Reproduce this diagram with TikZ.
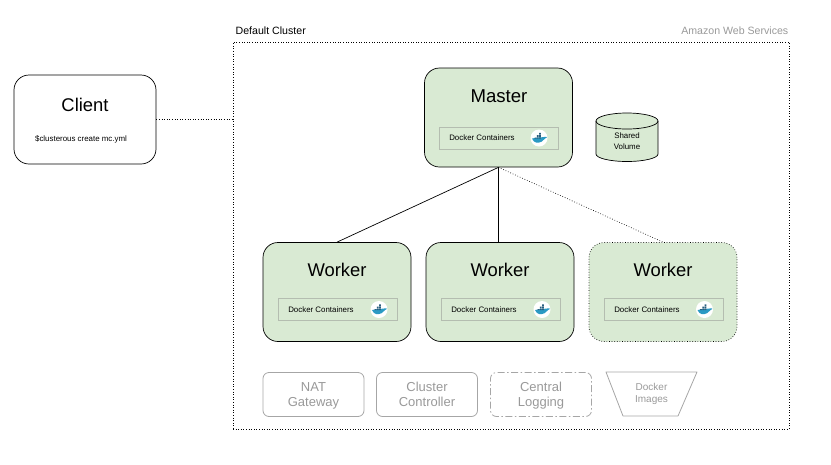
\documentclass[tikz,border=0pt]{standalone}
\usepackage{fontspec}
\setmainfont{Liberation Sans}
\usetikzlibrary{calc}
\definecolor{fillg}{HTML}{D9EAD3}
\definecolor{inner}{HTML}{B4BDB0}
\definecolor{soft}{HTML}{A6A6A6}
\definecolor{softtext}{HTML}{999999}
\definecolor{whale}{HTML}{2B9AC4}
\definecolor{whaledk}{HTML}{2A5F7F}
\tikzset{
  px/.style={font=\fontsize{#1}{#1}\selectfont},
  big/.style={draw=black,line width=0.7pt,fill=fillg,rounded corners=15pt,minimum width=148pt,minimum height=99pt,inner sep=0pt},
  tag/.style={draw=inner,line width=0.8pt,minimum width=119pt,minimum height=22pt,inner sep=0pt},
  svc/.style={draw=soft,line width=0.8pt,rounded corners=6pt,minimum width=101pt,minimum height=44pt,inner sep=0pt,align=center,text=softtext,px=13,text depth=0pt},
  dotline/.style={line width=0.65pt,dash pattern=on 0.7pt off 1.9pt},
  whaleicon/.pic={
    \fill[white] (0,0) circle (8.5pt);
    \fill[whale] (-7,0.6) .. controls (-3,-0.6) and (3,-0.6) .. (5,-1) .. controls (6.5,-1.6) and (7.5,-1.2) .. (8,-0.6) .. controls (6.5,0.2) and (5.5,0.8) .. (5,1.5) .. controls (3,5) and (-3,5.5) .. (-5,3.5) .. controls (-6,2.5) and (-6.6,1.5) .. (-7,0.6) -- cycle;
    \fill[whaledk] (-4.5,-0.5) rectangle (-2.7,0.6) (-2.2,-0.5) rectangle (-0.4,0.6) (0.1,-0.5) rectangle (1.9,0.6) (-2.2,-3) rectangle (-0.4,-1) (0.1,-3) rectangle (1.9,-1) (0.1,-5.2) rectangle (1.9,-3.4);
  }
}
\begin{document}
\begin{tikzpicture}[x=1pt,y=-1pt]
\useasboundingbox (0,0) rectangle (831,464);
\node[draw=black,dotline,minimum width=556pt,minimum height=387pt,inner sep=0pt] (cluster) at (511,235.5) {};
\node[px=10.6,anchor=west,inner sep=0pt] (dc) at (235.5,31) {Default Cluster};
\node[px=10.6,anchor=east,inner sep=0pt,text=softtext] (aws) at (788.5,31) {Amazon Web Services};

\node[big,fill=white,minimum width=142pt,minimum height=89pt] (client) at (85,119.5) {};
\node[px=18.4,inner sep=0pt] (clientt) at (85,105) {Client};
\node[px=7.9,inner sep=0pt] (cmd) at (81,139) {\$clusterous create mc.yml};

\node[big] (master) at (498.5,117.5) {};
\node[px=18.6,inner sep=0pt] (mastert) at (499,96) {Master};
\node[tag] (mtag) at (499,138) {};
\node[px=7.9,inner sep=0pt] (mtagt) at (482,138) {Docker Containers};
\pic at (539,138) {whaleicon};

\draw[line width=0.7pt,fill=fillg] (596,121) arc[start angle=180,end angle=0,x radius=31,y radius=-8] -- (658,154) arc[start angle=0,end angle=-180,x radius=31,y radius=-7.5] -- cycle;
\draw[line width=0.7pt] (596,121) arc[start angle=180,end angle=360,x radius=31,y radius=-8];
\node[px=7.9,align=center,inner sep=0pt] (volt) at (627,141) {Shared\\[2.5pt]Volume};

\node[big] (w1) at (337,292) {};
\node[px=18.4,inner sep=0pt] (w1t) at (337,270) {Worker};
\node[tag] (w1tag) at (337.5,309.5) {};
\node[px=7.9,inner sep=0pt] (w1tagt) at (321,309.5) {Docker Containers};
\pic at (379,309.5) {whaleicon};

\node[big] (w2) at (500,292) {};
\node[px=18.4,inner sep=0pt] (w2t) at (500,270) {Worker};
\node[tag] (w2tag) at (500.5,309.5) {};
\node[px=7.9,inner sep=0pt] (w2tagt) at (484,309.5) {Docker Containers};
\pic at (542,309.5) {whaleicon};

\node[big,dotline] (w3) at (663,292) {};
\node[px=18.4,inner sep=0pt] (w3t) at (663,270) {Worker};
\node[tag] (w3tag) at (663.5,309.5) {};
\node[px=7.9,inner sep=0pt] (w3tagt) at (647,309.5) {Docker Containers};
\pic at (704.5,309.5) {whaleicon};

\node[svc] (nat) at (313.5,394.5) {NAT\\[2.5pt]Gateway};
\node[svc] (cc) at (427,394.5) {Cluster\\[2.5pt]Controller};
\node[svc,dash pattern=on 7pt off 2.5pt on 1.5pt off 2.5pt] (log) at (541,394.5) {Central\\[2.5pt]Logging};
\draw[draw=soft,line width=0.8pt,line join=round] (606,372) -- (697,372) -- (678,416) -- (623,416) -- cycle;
\node[px=10,align=center,text=softtext,inner sep=0pt] (imgt) at (651.5,394) {Docker\\[2pt]Images};

\draw[dotline] (client.east) -- (client.east -| cluster.west);
\draw[line width=0.7pt] (master.south) -- (w1.north);
\draw[line width=0.7pt] (master.south) -- (master.south |- w2.north);
\draw[dotline] (master.south) -- (w3.north);
\end{tikzpicture}
\end{document}
